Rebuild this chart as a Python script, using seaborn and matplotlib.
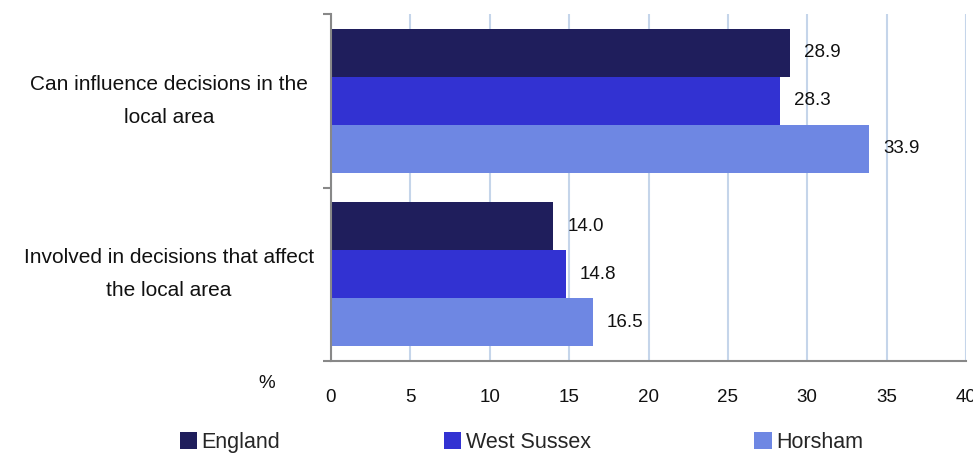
import matplotlib
matplotlib.use("Agg")
import matplotlib.pyplot as plt
import matplotlib.transforms as mtransforms
from matplotlib.patches import Patch
import seaborn as sns
import pandas as pd

categories = ["Can influence decisions in the\nlocal area",
              "Involved in decisions that affect\nthe local area"]
series = ["England", "West Sussex", "Horsham"]
england = [28.9, 14.0]
west_sussex = [28.3, 14.8]
horsham = [33.9, 16.5]
x_ticks = [0, 5, 10, 15, 20, 25, 30, 35, 40]
colors = ["#1F1E5C", "#3232D2", "#6E87E3"]

rows = []
for s, vals in zip(series, [england, west_sussex, horsham]):
    for c, v in zip(categories, vals):
        rows.append({"category": c, "series": s, "value": v})
df = pd.DataFrame(rows)

sns.set_theme(style="white")
plt.rcParams['font.family'] = ['Liberation Sans', 'DejaVu Sans']

fig = plt.figure(figsize=(9.73, 4.54), dpi=100)
ax = fig.add_axes([331 / 973, 1 - 361 / 454, (966 - 331) / 973, (361 - 14) / 454])

sns.barplot(data=df, y="category", x="value", hue="series", hue_order=series,
            order=categories, palette=colors, orient="h", width=0.83,
            saturation=1, linewidth=0, legend=False, ax=ax)

for cont in ax.containers:
    ax.bar_label(cont, fmt="%.1f", padding=10, fontsize=13.5, color="#111111")

ax.set_xlim(0, 40)
ax.set_ylim(1.5, -0.5)
ax.set_xticks(x_ticks)
ax.set_xticklabels([str(t) for t in x_ticks], fontsize=13.5)
ax.set_yticks([-0.5, 0.5, 1.5])
ax.set_yticklabels([])
ax.set_xlabel("")
ax.set_ylabel("")
ax.tick_params(axis="y", left=True, length=6, width=1.5, color="#888888")
ax.tick_params(axis="x", bottom=False, pad=14, labelcolor="#111111")
ax.xaxis.grid(True, color="#C5D5EA", linewidth=1.5)
ax.yaxis.grid(False)
ax.set_axisbelow(True)
for side in ["top", "right"]:
    ax.spines[side].set_visible(False)
for side in ["left", "bottom"]:
    ax.spines[side].set_color("#888888")
    ax.spines[side].set_linewidth(1.5)

trans = mtransforms.blended_transform_factory(ax.transAxes, ax.transData)
for i, c in enumerate(categories):
    ax.text(-0.255, i, c, transform=trans, ha="center", va="center",
            fontsize=15, linespacing=1.95, color="#111111")

fig.text(267 / 973, 1 - 383 / 454, "%", ha="center", va="center", fontsize=13.5, color="#111111")

handles = [Patch(facecolor=col, edgecolor="none") for col in colors]
fig.legend(handles, series, loc="lower left", ncol=3, mode="expand",
           bbox_to_anchor=(180 / 973, 1 / 454, (863 - 180) / 973, 24 / 454),
           frameon=False, fontsize=15.5, handlelength=0.8, handleheight=0.8,
           handletextpad=0.2, borderaxespad=0, borderpad=0)

fig.savefig("out.png", dpi=100)
